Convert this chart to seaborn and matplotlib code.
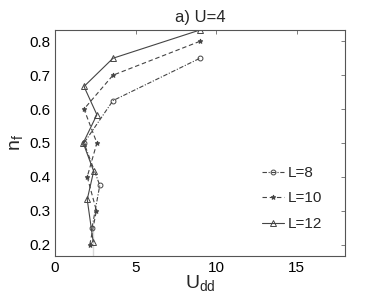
import matplotlib
matplotlib.use('Agg')
import matplotlib.pyplot as plt
import seaborn as sns
import pandas as pd

# n_f values (k/L) and the U_dd
nf_8 = [0.25, 0.375, 0.5, 0.625, 0.75]
udd_8 = [2.3, 2.78, 1.8, 3.6, 9.0]

nf_10 = [0.2, 0.3, 0.4, 0.5, 0.6, 0.7, 0.8]
udd_10 = [2.16, 2.57, 2.0, 2.6, 1.8, 3.6, 9.0]

nf_12 = [1/6, 0.25, 1/3, 5/12, 0.5, 7/12, 2/3, 0.75, 5/6]
udd_12 = [2.37, 2.37, 2.0, 2.4, 1.75, 2.6, 1.8, 3.6, 9.0]

sns.set_style('white')
plt.rcParams['font.family'] = ['Liberation Sans', 'DejaVu Sans']

fig = plt.figure(figsize=(3.82, 3.0), dpi=100)
ax = fig.add_axes([0.144, 0.147, 0.759, 0.753])

series = [
    ('L=8', udd_8, nf_8, 'o', (0, (4, 1.5, 1, 1.5)), 3.5),
    ('L=10', udd_10, nf_10, '*', (0, (4, 2.5)), 3.5),
    ('L=12', udd_12, nf_12, '^', '-', 4),
]
for lab, xs, ys, mk, ls, ms in series:
    df = pd.DataFrame({'Udd': xs, 'nf': ys})
    sns.lineplot(data=df, x='Udd', y='nf', sort=False, ax=ax, color='#444444',
                 linewidth=0.8, marker=mk, markersize=ms, linestyle=ls,
                 markerfacecolor='none' if mk != '*' else '#444444',
                 markeredgecolor='#444444', markeredgewidth=0.7, label=lab)

ax.set_xlim(0, 18)
ax.set_ylim(1/6, 5/6)
ax.set_xticks([0, 5, 10, 15])
ax.set_yticks([0.2, 0.3, 0.4, 0.5, 0.6, 0.7, 0.8])
ax.tick_params(direction='in', top=True, right=True, length=3, labelsize=11,
               width=0.6, color='#666666', labelcolor='black')
for s in ax.spines.values():
    s.set_color('#555555')
    s.set_linewidth(0.8)

ax.set_title('a) U=4', fontsize=12, pad=6)
ax.set_xlabel('U$_{\\mathregular{dd}}$', fontsize=14, labelpad=-1)
ax.set_ylabel('n$_{\\mathregular{f}}$', fontsize=14, labelpad=2)

ax.legend(loc='lower right', frameon=False, fontsize=11, handlelength=1.4,
          handletextpad=0.3, labelspacing=0.75, bbox_to_anchor=(0.97, 0.05))

fig.savefig('out.png', dpi=100)
